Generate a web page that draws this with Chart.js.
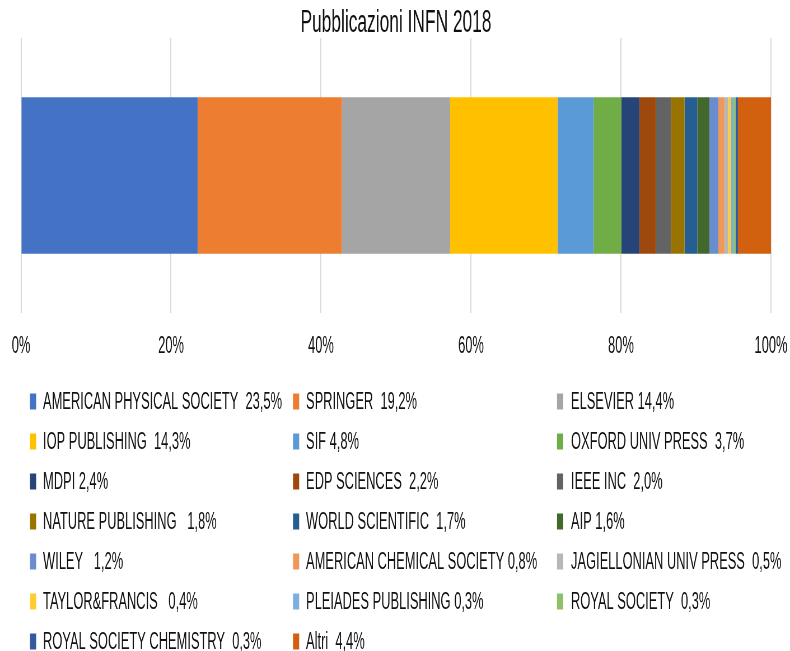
<!DOCTYPE html>
<html>
<head>
<meta charset="utf-8">
<script src="https://cdn.jsdelivr.net/npm/chart.js@4/dist/chart.umd.min.js"></script>
<style>
html,body{margin:0;padding:0;background:#fff;}
#c{width:790px;height:651px;display:block;}
</style>
</head>
<body>
<canvas id="c" width="1411" height="651" style="width:790px;height:651px;"></canvas>
<script>
const title = 'Pubblicazioni INFN 2018';
const categories = [''];
const seriesNames = [
  'AMERICAN PHYSICAL SOCIETY  23,5%', 'SPRINGER  19,2%', 'ELSEVIER 14,4%',
  'IOP PUBLISHING  14,3%', 'SIF 4,8%', 'OXFORD UNIV PRESS  3,7%',
  'MDPI 2,4%', 'EDP SCIENCES  2,2%', 'IEEE INC  2,0%',
  'NATURE PUBLISHING   1,8%', 'WORLD SCIENTIFIC  1,7%', 'AIP 1,6%',
  'WILEY   1,2%', 'AMERICAN CHEMICAL SOCIETY 0,8%', 'JAGIELLONIAN UNIV PRESS  0,5%',
  'TAYLOR&FRANCIS   0,4%', 'PLEIADES PUBLISHING 0,3%', 'ROYAL SOCIETY  0,3%',
  'ROYAL SOCIETY CHEMISTRY  0,3%', 'Altri  4,4%'
];
const seriesValues = [23.5, 19.2, 14.4, 14.3, 4.8, 3.7, 2.4, 2.2, 2.0, 1.8, 1.7, 1.6, 1.2, 0.8, 0.5, 0.4, 0.3, 0.3, 0.3, 4.4];
const tickValues = [0, 20, 40, 60, 80, 100];
const seriesColors = [
  '#4472C4', '#ED7D31', '#A5A5A5', '#FFC000', '#5B9BD5', '#70AD47',
  '#264478', '#9E480E', '#636363', '#997300', '#255E91', '#43682B',
  '#698ED0', '#F1975A', '#B7B7B7', '#FFCD33', '#7CAFDD', '#8CC168',
  '#335AA1', '#D1600F'
];

const total = seriesValues.reduce((a, b) => a + b, 0);
const SX = 790 / 1411; // horizontal squeeze applied by CSS
const FONT = '"Liberation Sans", Arial, sans-serif';

const datasets = seriesNames.map((n, i) => ({
  label: n,
  data: [seriesValues[i] / total * 100],
  backgroundColor: seriesColors[i],
  borderWidth: 0,
  barPercentage: 1,
  categoryPercentage: 0.569
}));

const gridLegend = {
  id: 'gridLegend',
  afterDraw(chart) {
    const ctx = chart.ctx;
    ctx.save();
    const markX = [30, 293, 557].map(v => v / SX);
    const textX = [43, 306, 571].map(v => v / SX);
    ctx.font = '23px ' + FONT;
    ctx.textBaseline = 'middle';
    ctx.textAlign = 'left';
    chart.data.datasets.forEach((ds, i) => {
      const col = i % 3, row = Math.floor(i / 3);
      const cy = 401.5 + row * 40;
      ctx.fillStyle = ds.backgroundColor;
      ctx.fillRect(markX[col], cy - 8, 11, 16);
      ctx.fillStyle = '#111';
      ctx.fillText(ds.label, textX[col], cy + 1);
    });
    ctx.restore();
  }
};

new Chart(document.getElementById('c'), {
  type: 'bar',
  data: { labels: categories, datasets },
  options: {
    indexAxis: 'y',
    responsive: false,
    maintainAspectRatio: false,
    devicePixelRatio: 1,
    animation: false,
    layout: { padding: { left: 37.5, right: 34, top: 0, bottom: 270.4 } },
    plugins: {
      legend: { display: false },
      tooltip: { enabled: false },
      title: {
        display: true,
        text: title,
        color: '#111',
        font: { family: FONT, size: 31, weight: 'normal', lineHeight: 0.9 },
        padding: { top: 10, bottom: 0 }
      }
    },
    scales: {
      x: {
        stacked: true,
        min: 0, max: 100,
        afterBuildTicks(axis) { axis.ticks = tickValues.map(v => ({ value: v })); },
        afterFit(axis) { axis.paddingLeft = 0; axis.paddingRight = 0; },
        ticks: {
          callback: v => v + '%',
          color: '#111',
          padding: 20,
          maxRotation: 0,
          font: { family: FONT, size: 23 }
        },
        grid: { color: '#D9D9D9', lineWidth: 2, drawTicks: false },
        border: { display: false }
      },
      y: {
        stacked: true,
        display: false
      }
    }
  },
  plugins: [gridLegend]
});
</script>
</body>
</html>
